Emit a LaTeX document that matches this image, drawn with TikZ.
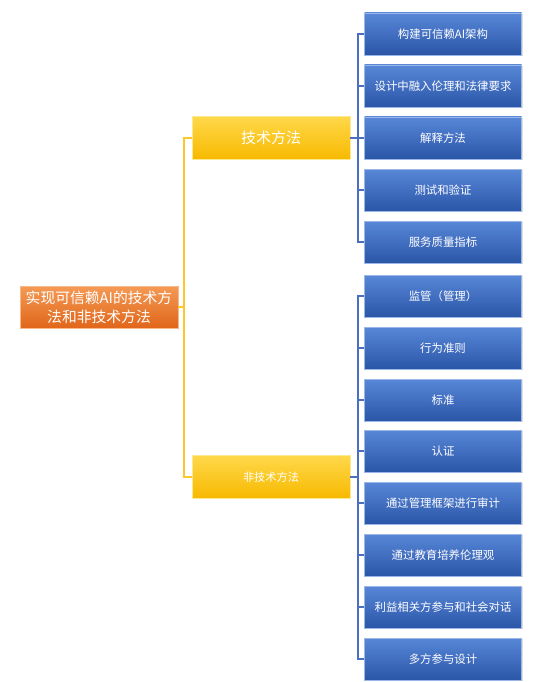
\documentclass[tikz,border=0pt]{standalone}
\usepackage{fontspec}
\setmainfont{Noto Sans CJK SC}
\usepackage{tikz}
\usetikzlibrary{positioning,calc,shadows}
\definecolor{bluetop}{HTML}{5887D8}
\definecolor{bluebot}{HTML}{2B56A8}
\definecolor{blueline}{HTML}{4A6FC0}
\definecolor{goldtop}{HTML}{FFD84A}
\definecolor{goldbot}{HTML}{F7B900}
\definecolor{goldline}{HTML}{FFC72C}
\definecolor{orangetop}{HTML}{F59A55}
\definecolor{orangebot}{HTML}{E0661A}

\begin{document}
\begin{tikzpicture}[x=1pt, y=-1pt, line width=1.1pt,
    rootbox/.style={rectangle, draw=orangetop!70!white, line width=0.6pt,
      top color=orangetop, bottom color=orangebot, text=white,
      minimum width=158pt, minimum height=42pt, inner sep=1pt,
      align=center, font=\fontsize{14.8}{19}\selectfont},
    groupbox/.style={rectangle, draw=goldtop!60!white, line width=0.6pt,
      top color=goldtop, bottom color=goldbot, text=white,
      minimum width=158pt, minimum height=43pt},
    leafbox/.style={rectangle, draw=bluetop!60!white, line width=0.6pt,
      top color=bluetop, bottom color=bluebot, text=white,
      minimum width=157pt, minimum height=42pt,
      font=\fontsize{11.4}{13}\selectfont,
      drop shadow={shadow xshift=1pt, shadow yshift=-1pt, opacity=0.25}},
    yline/.style={draw=goldline, line width=1.1pt},
    bline/.style={draw=blueline, line width=1.1pt}]
  \useasboundingbox (0,0) rectangle (558,682);

  % root and groups
  \node[rootbox] (root) at (99,307) {实现可信赖AI的技术方\\法和非技术方法};
  \node[groupbox, font=\fontsize{15}{17}\selectfont] (tech) at (271,138) {技术方法};
  \node[groupbox, font=\fontsize{11.2}{13}\selectfont] (nontech) at (271,477) {非技术方法};

  % technical leaves
  \begin{scope}[every node/.style={leafbox}]
    \node (t1) at (443,34) {构建可信赖AI架构};
    \node (t2) at (443,86) {设计中融入伦理和法律要求};
    \node (t3) at (443,138) {解释方法};
    \node (t4) at (443,190) {测试和验证};
    \node (t5) at (443,242) {服务质量指标};
  \end{scope}

  % non-technical leaves
  \begin{scope}[every node/.style={leafbox}]
    \node (n1) at (443,296) {监管（管理）};
    \node (n2) at (443,348) {行为准则};
    \node (n3) at (443,400) {标准};
    \node (n4) at (443,451) {认证};
    \node (n5) at (443,503) {通过管理框架进行审计};
    \node (n6) at (443,555) {通过教育培养伦理观};
    \node (n7) at (443,607) {利益相关方参与和社会对话};
    \node (n8) at (443,659) {多方参与设计};
  \end{scope}

  % junctions
  \coordinate (rj) at (184,307);
  \coordinate (tj) at (358,138);
  \coordinate (nj) at (358,477);

  \begin{scope}[on background layer/.try]
    \draw[yline] (root.east) -- (rj) |- (tech.west);
    \draw[yline] (rj) |- (nontech.west);
    \draw[bline] (tech.east) -- (tj);
    \draw[bline] (nontech.east) -- (nj);
    \foreach \leaf in {t1,t2,t3,t4,t5}
      \draw[bline] (tj) |- (\leaf.west);
    \foreach \leaf in {n1,n2,n3,n4,n5,n6,n7,n8}
      \draw[bline] (nj) |- (\leaf.west);
  \end{scope}
\end{tikzpicture}
\end{document}
